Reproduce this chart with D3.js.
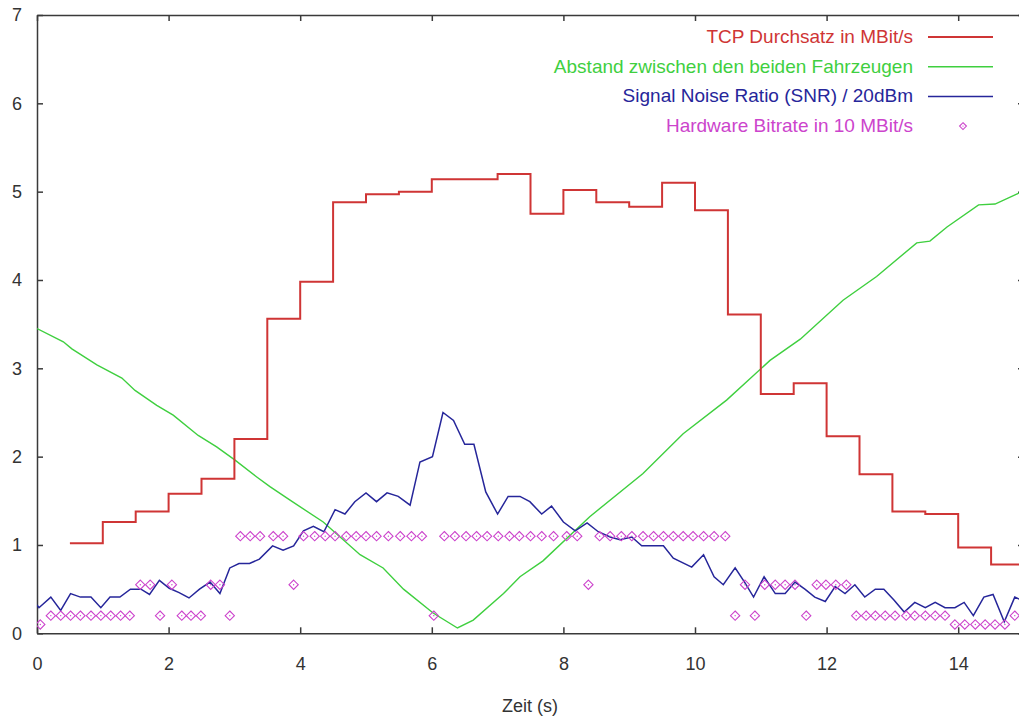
<!DOCTYPE html>
<html>
<head>
<meta charset="utf-8">
<script src="https://cdn.jsdelivr.net/npm/d3@7"></script>
<style>
  body { margin: 0; background: #fff; }
  svg { display: block; font-family: "Liberation Sans", Arial, sans-serif; }
  .axis path, .axis line { stroke: #3a3a3a; stroke-width: 1.5; }
  .axis text { fill: #333; font-size: 18px; }
</style>
</head>
<body>
<svg width="1019" height="719"></svg>
<script>
// TCP Durchsatz (MBit/s), stufen je 0.5 s
var tcpTime = [0.5, 1.0, 1.5, 2.0, 2.5, 3.0, 3.5, 4.0, 4.5, 5.0, 5.5, 6.0, 6.5, 7.0, 7.5,
  8.0, 8.5, 9.0, 9.5, 10.0, 10.5, 11.0, 11.5, 12.0, 12.5, 13.0, 13.5, 14.0, 14.5, 15.0];
var tcpRate = [1.02, 1.26, 1.38, 1.58, 1.75, 2.20, 3.56, 3.98, 4.88, 4.97, 5.00, 5.14, 5.14, 5.20, 4.75,
  5.02, 4.88, 4.83, 5.10, 4.79, 3.61, 2.71, 2.83, 2.23, 1.80, 1.38, 1.35, 0.97, 0.78, 0.78];

// Abstand zwischen den Fahrzeugen
var distTime = [0, 0.40, 0.53, 0.91, 1.29, 1.49, 1.82, 2.07, 2.45, 2.73, 3.01, 3.34, 3.54, 3.84, 4.35,
  4.91, 5.26, 5.57, 6.02, 6.39, 6.63, 7.09, 7.34, 7.69, 8.40, 9.21, 9.82, 10.48, 11.14, 11.60,
  12.25, 12.76, 13.37, 13.57, 13.83, 14.31, 14.56, 15.0];
var distValue = [3.45, 3.30, 3.22, 3.04, 2.89, 2.75, 2.58, 2.47, 2.24, 2.11, 1.96, 1.77, 1.66, 1.51, 1.26,
  0.89, 0.74, 0.50, 0.23, 0.06, 0.15, 0.45, 0.64, 0.82, 1.32, 1.81, 2.26, 2.64, 3.09, 3.33,
  3.77, 4.04, 4.42, 4.44, 4.60, 4.85, 4.86, 5.01];

// SNR / 20dBm
var snrTime = [0, 0.03, 0.21, 0.36, 0.51, 0.66, 0.82, 0.97, 1.11, 1.26, 1.42, 1.58, 1.71, 1.86, 2.01,
  2.16, 2.31, 2.47, 2.63, 2.78, 2.93, 3.07, 3.23, 3.38, 3.58, 3.74, 3.90, 4.05, 4.20, 4.36,
  4.53, 4.68, 4.83, 5.00, 5.16, 5.32, 5.49, 5.67, 5.82, 6.01, 6.17, 6.33, 6.50, 6.64, 6.82,
  7.00, 7.16, 7.34, 7.49, 7.67, 7.82, 8.00, 8.18, 8.36, 8.53, 8.71, 8.86, 9.04, 9.19, 9.52,
  9.67, 9.95, 10.13, 10.29, 10.43, 10.61, 10.76, 10.89, 11.05, 11.22, 11.37, 11.52, 11.67, 11.82, 11.98,
  12.13, 12.28, 12.43, 12.58, 12.74, 12.87, 13.02, 13.18, 13.34, 13.50, 13.65, 13.80, 13.95, 14.09,
  14.23, 14.39, 14.53, 14.70, 14.86, 14.95];
var snrValue = [0.32, 0.29, 0.41, 0.26, 0.45, 0.41, 0.41, 0.29, 0.41, 0.41, 0.50, 0.50, 0.44, 0.60, 0.51,
  0.46, 0.40, 0.50, 0.58, 0.45, 0.74, 0.79, 0.79, 0.84, 0.99, 0.94, 0.99, 1.16, 1.21, 1.15,
  1.40, 1.35, 1.49, 1.59, 1.49, 1.59, 1.55, 1.45, 1.94, 2.00, 2.50, 2.41, 2.14, 2.14, 1.60,
  1.35, 1.55, 1.55, 1.49, 1.35, 1.44, 1.26, 1.16, 1.25, 1.15, 1.09, 1.06, 1.09, 0.99, 0.99,
  0.85, 0.75, 0.89, 0.64, 0.55, 0.74, 0.57, 0.41, 0.64, 0.45, 0.45, 0.58, 0.50, 0.41, 0.36,
  0.53, 0.45, 0.55, 0.41, 0.50, 0.50, 0.38, 0.24, 0.35, 0.29, 0.35, 0.29, 0.29, 0.35,
  0.20, 0.41, 0.44, 0.13, 0.41, 0.38];

// Hardware Bitrate in 10 MBit/s
var hwTime = [0.05, 0.21, 0.36, 0.51, 0.66, 0.82, 0.97, 1.12, 1.27, 1.41, 1.57, 1.72, 1.87, 2.05, 2.20,
  2.34, 2.49, 2.64, 2.78, 2.93, 3.09, 3.24, 3.39, 3.59, 3.74, 3.90, 4.05, 4.22, 4.38, 4.53,
  4.70, 4.85, 5.00, 5.16, 5.34, 5.52, 5.69, 5.85, 6.03, 6.19, 6.35, 6.52, 6.68, 6.84, 7.01,
  7.18, 7.33, 7.50, 7.67, 7.85, 8.05, 8.21, 8.38, 8.55, 8.71, 8.88, 9.04, 9.21, 9.37, 9.52,
  9.67, 9.82, 9.97, 10.13, 10.29, 10.46, 10.61, 10.76, 10.91, 11.06, 11.22, 11.37, 11.52, 11.69, 11.85,
  11.99, 12.14, 12.30, 12.45, 12.60, 12.74, 12.89, 13.04, 13.21, 13.34, 13.50, 13.65, 13.80, 13.95,
  14.10, 14.26, 14.41, 14.56, 14.71, 14.86];
var hwRate = [0.1, 0.2, 0.2, 0.2, 0.2, 0.2, 0.2, 0.2, 0.2, 0.2, 0.55, 0.55, 0.2, 0.55, 0.2,
  0.2, 0.2, 0.55, 0.55, 0.2, 1.1, 1.1, 1.1, 1.1, 1.1, 0.55, 1.1, 1.1, 1.1, 1.1,
  1.1, 1.1, 1.1, 1.1, 1.1, 1.1, 1.1, 1.1, 0.2, 1.1, 1.1, 1.1, 1.1, 1.1, 1.1,
  1.1, 1.1, 1.1, 1.1, 1.1, 1.1, 1.1, 0.55, 1.1, 1.1, 1.1, 1.1, 1.1, 1.1, 1.1,
  1.1, 1.1, 1.1, 1.1, 1.1, 1.1, 0.2, 0.55, 0.2, 0.55, 0.55, 0.55, 0.55, 0.2, 0.55,
  0.55, 0.55, 0.55, 0.2, 0.2, 0.2, 0.2, 0.2, 0.2, 0.2, 0.2, 0.2, 0.2, 0.1,
  0.1, 0.1, 0.1, 0.1, 0.1, 0.2];

var xTicks = [0, 2, 4, 6, 8, 10, 12, 14];
var yTicks = [0, 1, 2, 3, 4, 5, 6, 7];

var legendLabels = ["TCP Durchsatz in MBit/s", "Abstand zwischen den beiden Fahrzeugen",
  "Signal Noise Ratio (SNR) / 20dBm", "Hardware Bitrate in 10 MBit/s"];

var colRed = "#cf3535", colGreen = "#3fcf3f", colBlue = "#26269a", colMag = "#cc44cc";

var svg = d3.select("svg"),
    margin = {top: 15, left: 37},
    width = 987,
    height = 618.3;

svg.append("rect").attr("width", 1019).attr("height", 719).attr("fill", "#fff");

var g = svg.append("g").attr("transform", "translate(" + margin.left + "," + margin.top + ")");

var x = d3.scaleLinear().domain([0, 15]).range([0, width]);
var y = d3.scaleLinear().domain([0, 7]).range([height, 0]);

g.append("clipPath").attr("id", "plotclip")
  .append("rect").attr("width", width).attr("height", height);

// axes (gnuplot style: ticks inwards, mirrored)
g.append("g").attr("class", "axis")
    .call(d3.axisLeft(y).tickValues(yTicks).tickFormat(d3.format("d"))
      .tickSize(-6).tickSizeOuter(0).tickPadding(15));

g.append("g").attr("class", "axis")
    .attr("transform", "translate(0," + height + ")")
    .call(d3.axisBottom(x).tickValues(xTicks).tickFormat(d3.format("d"))
      .tickSize(-6).tickSizeOuter(0).tickPadding(24));

g.append("g").attr("class", "axis")
    .call(d3.axisTop(x).tickValues(xTicks).tickSize(-6).tickSizeOuter(0).tickFormat(""));

g.append("g").attr("class", "axis")
    .attr("transform", "translate(" + width + ",0)")
    .call(d3.axisRight(y).tickValues(yTicks).tickSize(-6).tickSizeOuter(0).tickFormat(""));

g.selectAll(".axis text").attr("font-family", "Liberation Sans, Arial, sans-serif");

svg.append("text")
    .attr("x", 530).attr("y", 712)
    .attr("text-anchor", "middle")
    .attr("font-size", "18px")
    .attr("fill", "#333")
    .text("Zeit (s)");

var plot = g.append("g").attr("clip-path", "url(#plotclip)");

var tcpLine = d3.line()
    .x(function(d, i) { return x(tcpTime[i]); })
    .y(function(d) { return y(d); })
    .curve(d3.curveStepAfter);

var distLine = d3.line()
    .x(function(d, i) { return x(distTime[i]); })
    .y(function(d) { return y(d); });

var snrLine = d3.line()
    .x(function(d, i) { return x(snrTime[i]); })
    .y(function(d) { return y(d); });

plot.append("path").datum(distValue)
    .attr("d", distLine).attr("fill", "none")
    .attr("stroke", colGreen).attr("stroke-width", 1.4);

plot.append("path").datum(snrValue)
    .attr("d", snrLine).attr("fill", "none")
    .attr("stroke", colBlue).attr("stroke-width", 1.5);

plot.append("path").datum(tcpRate)
    .attr("d", tcpLine).attr("fill", "none")
    .attr("stroke", colRed).attr("stroke-width", 2);

var diamond = d3.symbol().type(d3.symbolDiamond2).size(55);

var pts = plot.selectAll(".hw")
  .data(hwRate)
  .enter().append("g")
    .attr("class", "hw")
    .attr("transform", function(d, i) { return "translate(" + x(hwTime[i]) + "," + y(d) + ")"; });

pts.append("path").attr("d", diamond)
    .attr("fill", "none").attr("stroke", colMag).attr("stroke-width", 1.1);
pts.append("circle").attr("r", 0.7).attr("fill", colMag);

// legend
var legendColors = [colRed, colGreen, colBlue, colMag];
var leg = svg.append("g");

legendLabels.forEach(function(label, i) {
  var yy = 43 + i * 29.7;
  leg.append("text")
      .attr("x", 913).attr("y", yy)
      .attr("text-anchor", "end")
      .attr("font-size", "19px")
      .attr("fill", legendColors[i])
      .text(label);
  if (i < 3) {
    leg.append("line")
        .attr("x1", 928).attr("x2", 993)
        .attr("y1", yy - 6).attr("y2", yy - 6)
        .attr("stroke", legendColors[i])
        .attr("stroke-width", i == 0 ? 2 : 1.5);
  } else {
    leg.append("path")
        .attr("d", d3.symbol().type(d3.symbolDiamond2).size(30))
        .attr("transform", "translate(963," + (yy - 6) + ")")
        .attr("fill", "none").attr("stroke", colMag).attr("stroke-width", 1.1);
    leg.append("circle").attr("cx", 963).attr("cy", yy - 6).attr("r", 0.6).attr("fill", colMag);
  }
});
</script>
</body>
</html>
